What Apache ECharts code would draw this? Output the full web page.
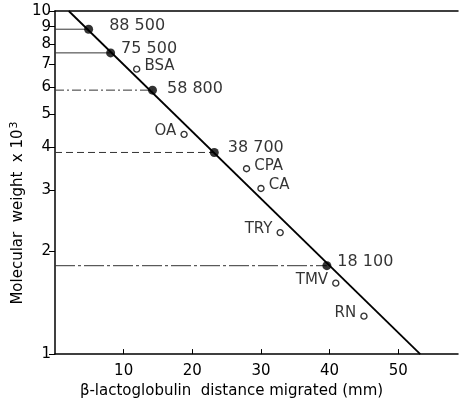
<!DOCTYPE html>
<html>
<head>
<meta charset="utf-8">
<script src="https://cdn.jsdelivr.net/npm/echarts@6/dist/echarts.min.js"></script>
<style>
  html, body { margin: 0; padding: 0; background: #fff; }
  #chart { width: 460px; height: 404px; }
</style>
</head>
<body>
<div id="chart"></div>
<script>
// Standard proteins (filled markers): distance migrated (mm) and molecular weight / 10^4
const stdLabels = ['88 500', '75 500', '58 800', '38 700', '18 100'];
const stdX = [4.9, 8.1, 14.2, 23.2, 39.6];
const stdY = [8.85, 7.55, 5.88, 3.87, 1.81];

// Test proteins (open markers)
const testLabels = ['BSA', 'OA', 'CPA', 'CA', 'TRY', 'TMV', 'RN'];
const testX = [11.9, 18.8, 27.9, 30.0, 32.8, 40.9, 45.0];
const testY = [6.77, 4.37, 3.47, 3.04, 2.26, 1.61, 1.29];
// which side of the open marker its label sits on
const testLabelSide = ['right', 'left', 'right', 'right', 'left', 'left', 'left'];

// Calibration line end points
const fitX = [2.0, 53.2];
const fitY = [10, 1];

// Axis ticks
const xTicks = [10, 20, 30, 40, 50];
const yTicks = [1, 2, 3, 4, 5, 6, 7, 8, 9, 10];

const font = 'DejaVu Sans';
const ink = '#000';

// label placement for the standard points (gap from marker, vertical shift)
const stdLabelGap = [16, 6, 10, 9, 6];
const stdLabelLift = [-3, -4, -1, -5, -4];

// reading lines from the y axis to each standard point
const guideDash = ['solid', 'solid', [9, 3, 2, 3], [7, 4], [20, 3, 3, 3]];
const guideSeries = stdX.map((x, i) => ({
  type: 'line',
  data: [[0, stdY[i]], [x, stdY[i]]],
  symbol: 'none',
  silent: true,
  lineStyle: { color: '#333', width: 1, type: guideDash[i] },
  z: 1
}));

const chart = echarts.init(document.getElementById('chart'), null, { renderer: 'canvas' });
chart.setOption({
  animation: false,
  backgroundColor: '#fff',
  grid: { left: 55, right: 2, top: 11, bottom: 45 },
  xAxis: [{
    type: 'value',
    min: 0,
    max: 58.7,
    position: 'bottom',
    axisLine: { show: true, lineStyle: { color: ink, width: 1.5 } },
    axisTick: { show: true, inside: true, length: 5, customValues: xTicks, lineStyle: { color: ink } },
    axisLabel: { customValues: xTicks, color: ink, fontFamily: font, fontSize: 15, margin: 10 },
    splitLine: { show: false },
    name: 'β-lactoglobulin  distance migrated (mm)',
    nameLocation: 'middle',
    nameGap: 25,
    nameTextStyle: { color: ink, fontFamily: font, fontSize: 15, padding: [0, 50, 0, 0] }
  }, {
    type: 'value',
    min: 0,
    max: 58.7,
    position: 'top',
    axisLine: { show: true, onZero: false, lineStyle: { color: ink, width: 1.5 } },
    axisTick: { show: false },
    axisLabel: { show: false },
    splitLine: { show: false }
  }],
  yAxis: {
    type: 'log',
    logBase: 10,
    min: 1,
    max: 10,
    axisLine: { show: true, onZero: false, lineStyle: { color: ink, width: 1.5 } },
    axisTick: { show: true, inside: false, length: 6, customValues: yTicks, lineStyle: { color: ink } },
    axisLabel: { customValues: yTicks, color: ink, fontFamily: font, fontSize: 15, margin: 4 },
    splitLine: { show: false }
  },
  graphic: [{
    type: 'text',
    x: 18,
    y: 213,
    rotation: Math.PI / 2,
    style: {
      text: '{a|Molecular  weight  x 10}{s|3}',
      align: 'center',
      verticalAlign: 'middle',
      rich: {
        a: { fontFamily: font, fontSize: 15, fill: ink },
        s: { fontFamily: font, fontSize: 11, fill: ink, verticalAlign: 'top', padding: [0, 0, 8, 1] }
      }
    },
    silent: true
  }],
  series: [
    ...guideSeries,
    {
      type: 'line',
      data: fitX.map((x, i) => [x, fitY[i]]),
      symbol: 'none',
      silent: true,
      lineStyle: { color: ink, width: 1.8 },
      z: 2
    },
    {
      type: 'scatter',
      data: stdX.map((x, i) => ({
        value: [x, stdY[i]],
        name: stdLabels[i],
        label: { distance: stdLabelGap[i], offset: [0, stdLabelLift[i]] }
      })),
      symbol: 'circle',
      symbolSize: 9,
      itemStyle: { color: ink },
      label: {
        show: true,
        position: 'right',
        formatter: p => p.name,
        color: ink,
        fontFamily: font,
        fontSize: 16
      },
      z: 3
    },
    {
      type: 'scatter',
      data: testX.map((x, i) => ({
        value: [x, testY[i]],
        name: testLabels[i],
        label: { position: testLabelSide[i] }
      })),
      symbol: 'circle',
      symbolSize: 6,
      itemStyle: { color: '#fff', borderColor: ink, borderWidth: 1.4 },
      label: {
        show: true,
        distance: 4,
        formatter: p => p.name,
        color: ink,
        fontFamily: font,
        fontSize: 15,
        offset: [0, -3]
      },
      z: 3
    }
  ]
});
</script>
</body>
</html>
